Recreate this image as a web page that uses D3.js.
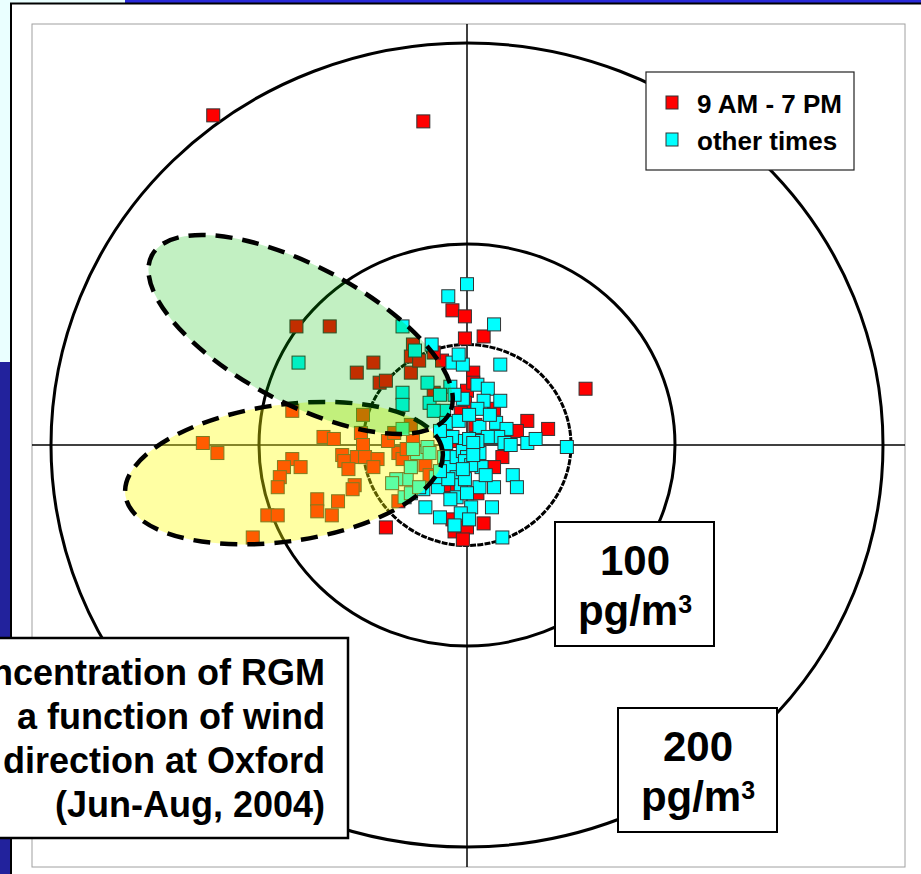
<!DOCTYPE html>
<html>
<head>
<meta charset="utf-8">
<script src="https://cdn.jsdelivr.net/npm/d3@7"></script>
<style>
  body { margin: 0; background: #eaffff; overflow: hidden; }
  text { font-family: "Liberation Sans", Arial, sans-serif; font-weight: bold; fill: #000; }
</style>
</head>
<body>
<svg id="chart" width="921" height="874"></svg>
<script>
// RGM concentration (pg/m3) split into east / north components by wind direction
var dayPts = [
  [-122, 164], [-21, 161], [57, 28], [39, 8], [-39, -41],
  [-7, 67], [-1, 64], [-1, 53], [8, 54], [-12, 42], [3, 36], [0, 27], [13, 18], [29, 12], [24, 7],
  [17, -6], [13, -11], [-8, -21], [5, -24], [8, -39], [-7, -37], [-6, -43], [0, -41], [-2, -47],
  [-1, 21], [-11, -20], [3, 31], [-3, 16], [-5, 2], [4, 10],
  [-82, 59], [-66, 59], [-53, 36], [-45, 41], [-42, 31], [-26, 50], [-27, 44], [-27, 36], [-16, 46],
  [-16, 26], [-23, 42], [-50, 15], [-84, 17], [-39, 32],
  [-127, 1], [-120, -4], [-69, 4], [-64, 3], [-51, 6], [-50, 0], [-60, -5], [-59, -8], [-53, -6],
  [-57, -12], [-49, -6], [-43, -7], [-45, -11], [-84, -7], [-88, -11], [-80, -11], [-90, -16],
  [-91, -21], [-54, -20], [-55, -22], [-72, -27], [-72, -33], [-62, -28], [-65, -35], [-96, -35],
  [-91, -35], [-103, -46], [-33, -4], [-31, -7], [-27, -11], [-29, -2], [-23, -4], [-20, -10],
  [-33, -28], [-18, -15], [-26, 2], [-38, 2], [-27, 10], [-35, 6]
];
var otherPts = [
  [0, 80], [-9, 74], [13, 60], [-31, 59], [-17, 50], [-7, 41], [-2, 40], [-4, 45], [16, 40], [5, 30],
  [10, 28], [-8, 29], [-2, 23], [8, 22], [5, 18], [-11, 17], [-18, 21], [-19, 31], [-31, 26], [-31, 20],
  [-16, 17], [-10, 11], [-4, 12], [-7, 4], [14, 11], [19, 8], [15, 4], [18, 1], [21, 0], [29, 1],
  [33, 3], [48, -1], [6, 9], [10, 4],
  [-10, 1], [-11, -6], [-8, -11], [-5, -16], [7, -11], [6, -4], [22, -15], [24, -21], [13, -21],
  [6, -21], [-3, -20], [-5, -26], [0, -24], [2, -31], [-3, -34], [-14, -21], [-20, -31], [-13, -36],
  [12, -31], [17, -46], [-15, -16], [-9, -17], [1, -8], [-5, -6], [-13, -13], [-21, -22], [-29, -17],
  [-34, -17], [-27, -11], [-30, -26], [-24, -4], [-19, -1], [-81, 41], [-25, 47], [-31, 8], [-26, -2],
  [-36, -19], [-27, -24], [-23, -21], [-18, -4],
  [-6, 25], [1, 15], [11, 15], [-13, 7], [9, -15], [-1, -17], [-8, -27], [1, -37], [-6, -40], [5, 2],
  [16, 22], [-13, 25],
  [0, 0], [1, -2], [-1, 2], [2, -4], [-2, -3], [1, 3], [0, -6], [3, 1], [-1, -8], [2, -10], [-2, -12], [3, -5]
];
var rings = [50, 100, 200];
var seriesNames = ["9 AM - 7 PM", "other times"];
var ringLabels = ["100", "200"];
// title as visible on the slide (its box runs off the left edge)
var titleLines = ["ncentration of RGM", "a function of wind", "direction at Oxford", "(Jun-Aug, 2004)"];
// highlighted sectors: center east, center north, half-axes, rotation (deg)
var sectors = [
  {name: "yellow", cx: -88, cy: -14, rx: 77, ry: 34, rot: -8, fill: "#ffff00", op: 0.36},
  {name: "green", cx: -80, cy: 55, rx: 81, ry: 34, rot: 28, fill: "#00c000", op: 0.24}
];

var svg = d3.select("#chart");

var x = d3.scaleLinear().domain([-200, 200]).range([51, 883]);
var y = d3.scaleLinear().domain([-200, 200]).range([847, 43]);

// slide frame
svg.append("rect").attr("x", 125).attr("y", 0).attr("width", 796).attr("height", 3)
  .attr("fill", "#2a2ad8");
svg.append("rect").attr("x", 0).attr("y", 362).attr("width", 11).attr("height", 512)
  .attr("fill", "#22229c");
svg.append("rect").attr("x", 11).attr("y", 3.5).attr("width", 930).attr("height", 900)
  .attr("fill", "#fff").attr("stroke", "#000").attr("stroke-width", 2);

// plot area
svg.append("rect").attr("x", 32).attr("y", 24).attr("width", 873).attr("height", 843)
  .attr("fill", "#fff").attr("stroke", "#a0a0a0").attr("stroke-width", 1);

// axes through origin
svg.append("line").attr("x1", 32).attr("x2", 905).attr("y1", y(0)).attr("y2", y(0))
  .attr("stroke", "#000").attr("stroke-width", 1.5);
svg.append("line").attr("x1", x(0)).attr("x2", x(0)).attr("y1", 24).attr("y2", 867)
  .attr("stroke", "#000").attr("stroke-width", 1.5);

// concentration rings
svg.append("g").selectAll("ellipse")
  .data(rings)
  .enter()
  .append("ellipse")
  .attr("cx", x(0))
  .attr("cy", y(0))
  .attr("rx", function (d) { return x(d) - x(0); })
  .attr("ry", function (d) { return y(0) - y(d); })
  .attr("fill", "none")
  .attr("stroke", "#000")
  .attr("stroke-width", 3)
  .attr("stroke-dasharray", function (d) { return d == 50 ? "6,1.2" : null; });

// points
function drawPts(data, color) {
  svg.append("g").selectAll("rect")
    .data(data)
    .enter()
    .append("rect")
    .attr("x", function (d) { return x(d[0]) - 6.5; })
    .attr("y", function (d) { return y(d[1]) - 6.5; })
    .attr("width", 13)
    .attr("height", 13)
    .attr("fill", color)
    .attr("stroke", "#333")
    .attr("stroke-width", 1);
}
drawPts(dayPts, "#ff0000");
drawPts(otherPts, "#00ffff");

// sector ellipses on top
sectors.forEach(function (s) {
  var px = x(s.cx), py = y(s.cy);
  svg.append("ellipse")
    .attr("cx", px)
    .attr("cy", py)
    .attr("rx", x(s.rx) - x(0))
    .attr("ry", y(0) - y(s.ry))
    .attr("transform", "rotate(" + s.rot + "," + px + "," + py + ")")
    .attr("fill", s.fill)
    .attr("fill-opacity", s.op)
    .attr("stroke", "#000")
    .attr("stroke-width", 4.5)
    .attr("stroke-dasharray", "17,10");
});

// legend
var lg = svg.append("g");
lg.append("rect").attr("x", 646).attr("y", 72).attr("width", 208).attr("height", 98)
  .attr("fill", "#fff").attr("stroke", "#222").attr("stroke-width", 1.2);
var colors = ["#ff0000", "#00ffff"];
seriesNames.forEach(function (n, i) {
  lg.append("rect").attr("x", 666).attr("y", 96 + i * 37).attr("width", 12).attr("height", 13)
    .attr("fill", colors[i]).attr("stroke", "#333").attr("stroke-width", 1);
  lg.append("text").attr("x", 697).attr("y", 113 + i * 37)
    .style("font-size", "26px").text(n);
});

// ring labels
var boxes = [{x: 555, y: 522}, {x: 618, y: 708}];
ringLabels.forEach(function (t, i) {
  var b = boxes[i];
  var g = svg.append("g");
  g.append("rect").attr("x", b.x).attr("y", b.y).attr("width", 159).attr("height", 124)
    .attr("fill", "#fff").attr("stroke", "#000").attr("stroke-width", 2);
  g.append("text").attr("x", b.x + 80).attr("y", b.y + 53).attr("text-anchor", "middle")
    .style("font-size", "42px").text(t);
  var u = g.append("text").attr("x", b.x + 80).attr("y", b.y + 103).attr("text-anchor", "middle")
    .style("font-size", "42px");
  u.append("tspan").text("pg/m");
  u.append("tspan").attr("dy", -12).style("font-size", "25px").text("3");
});

// title box
var tb = svg.append("g");
tb.append("rect").attr("x", -20).attr("y", 638).attr("width", 368).attr("height", 200)
  .attr("fill", "#fff").attr("stroke", "#000").attr("stroke-width", 2.5);
tb.selectAll("text")
  .data(titleLines)
  .enter()
  .append("text")
  .attr("x", 325)
  .attr("y", function (d, i) { return 685 + i * 44; })
  .attr("text-anchor", "end")
  .style("font-size", "36px")
  .text(function (d) { return d; });
</script>
</body>
</html>
